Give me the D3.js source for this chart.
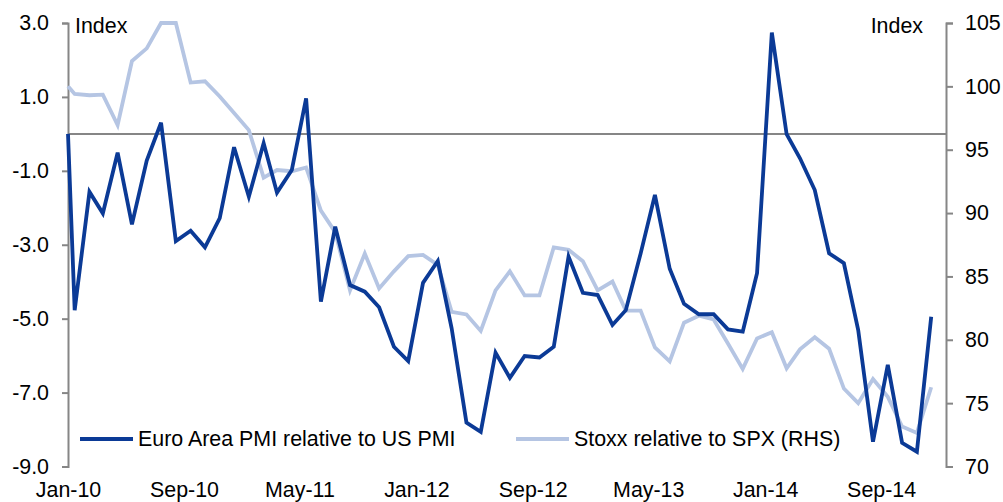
<!DOCTYPE html>
<html>
<head>
<meta charset="utf-8">
<script src="https://cdn.jsdelivr.net/npm/d3@7/dist/d3.min.js"></script>
<style>
  html, body { margin: 0; padding: 0; background: #fff; }
  svg { display: block; }
  text { font-family: "Liberation Sans", Arial, sans-serif; fill: #000; }
</style>
</head>
<body>
<svg id="chart" width="1003" height="502"></svg>
<script>
// ---- data ----
const dates = [
  "2010-01-01",
  "2010-01-15","2010-02-15","2010-03-15","2010-04-15","2010-05-15","2010-06-15",
  "2010-07-15","2010-08-15","2010-09-15","2010-10-15","2010-11-15","2010-12-15",
  "2011-01-15","2011-02-15","2011-03-15","2011-04-15","2011-05-15","2011-06-15",
  "2011-07-15","2011-08-15","2011-09-15","2011-10-15","2011-11-15","2011-12-15",
  "2012-01-15","2012-02-15","2012-03-15","2012-04-15","2012-05-15","2012-06-15",
  "2012-07-15","2012-08-15","2012-09-15","2012-10-15","2012-11-15","2012-12-15",
  "2013-01-15","2013-02-15","2013-03-15","2013-04-15","2013-05-15","2013-06-15",
  "2013-07-15","2013-08-15","2013-09-15","2013-10-15","2013-11-15","2013-12-15",
  "2014-01-15","2014-02-15","2014-03-15","2014-04-15","2014-05-15","2014-06-15",
  "2014-07-15","2014-08-15","2014-09-15","2014-10-15","2014-11-15","2014-12-15"
];
const euroPMI = [
  0.0,
  -4.77, -1.57, -2.15, -0.51, -2.45, -0.72, 0.30, -2.90, -2.62, -3.07, -2.28, -0.36,
  -1.70, -0.25, -1.59, -0.98, 0.96, -4.54, -2.51, -4.09, -4.27, -4.69, -5.76, -6.15,
  -4.03, -3.44, -5.26, -7.81, -8.06, -5.92, -6.60, -6.01, -6.05, -5.76, -3.32, -4.30,
  -4.36, -5.17, -4.77, -3.24, -1.65, -3.65, -4.60, -4.88, -4.88, -5.29, -5.35, -3.77,
  2.74, -0.01, -0.66, -1.52, -3.23, -3.50, -5.31, -8.33, -6.25, -8.36, -8.60, -4.95
];
const stoxxRel = [
  100.0,
  99.4, 99.3, 99.35, 96.95, 102.0, 103.0, 105.0, 105.0, 100.3, 100.4, 99.2, 97.9,
  96.55, 92.8, 93.4, 93.3, 93.6, 90.2, 88.5, 83.9, 86.8, 84.05, 85.4, 86.6,
  86.7, 85.9, 82.2, 82.0, 80.7, 83.9, 85.4, 83.5, 83.5, 87.3, 87.1, 86.2,
  83.9, 84.6, 82.3, 82.3, 79.4, 78.3, 81.35, 81.9, 81.6, 79.7, 77.7, 80.1,
  80.6, 77.75, 79.25, 80.2, 79.3, 76.15, 75.0, 76.9, 75.5, 73.15, 72.65, 76.25
];
const xTickLabels = ["Jan-10","Sep-10","May-11","Jan-12","Sep-12","May-13","Jan-14","Sep-14"];
const leftTicks = [3, 1, -1, -3, -5, -7, -9];
const leftTickLabels = ["3.0","1.0","-1.0","-3.0","-5.0","-7.0","-9.0"];
const rightTicks = [105, 100, 95, 90, 85, 80, 75, 70];
const rightTickLabels = ["105","100","95","90","85","80","75","70"];
const seriesNames = ["Euro Area PMI relative to US PMI", "Stoxx relative to SPX (RHS)"];

// ---- layout ----
const svg = d3.select("#chart");
const L = 68, R = 946, T = 23, B = 466.5;
const parseDate = d3.timeParse("%Y-%m-%d");
const parseTick = d3.timeParse("%b-%y");
const x = d3.scaleTime()
  .domain([parseDate("2010-01-01"), parseDate("2015-01-15")])
  .range([L, R]);
const yL = d3.scaleLinear().domain([-9, 3]).range([B, T]);
const yR = d3.scaleLinear().domain([70, 105]).range([B, T]);

const axisColor = "#868686";
const darkBlue = "#0b3a96";
const lightBlue = "#b5c5e3";
const fontSize = 21.4;
const ff = "Liberation Sans, Arial, sans-serif";

// left axis
const leftAxis = d3.axisLeft(yL).tickValues(leftTicks)
  .tickFormat((d, i) => leftTickLabels[i]).tickSizeOuter(0).tickSize(6).tickPadding(13);
const gL = svg.append("g").attr("transform", `translate(${L},0)`).call(leftAxis);
gL.select(".domain").attr("stroke", axisColor).attr("stroke-width", 2);
gL.selectAll(".tick line").attr("stroke", axisColor).attr("stroke-width", 2);
gL.selectAll(".tick text").attr("font-size", fontSize).attr("font-family", ff).attr("fill", "#000");

// right axis
const rightAxis = d3.axisRight(yR).tickValues(rightTicks)
  .tickFormat((d, i) => rightTickLabels[i]).tickSizeOuter(0).tickSize(7).tickPadding(12);
const gR = svg.append("g").attr("transform", `translate(${R},0)`).call(rightAxis);
gR.select(".domain").attr("stroke", axisColor).attr("stroke-width", 2);
gR.selectAll(".tick line").attr("stroke", axisColor).attr("stroke-width", 2);
gR.selectAll(".tick text").attr("font-size", fontSize).attr("font-family", ff).attr("fill", "#000");

// x axis labels (at bottom, no line)
const xAxis = d3.axisBottom(x).tickValues(xTickLabels.map(parseTick))
  .tickFormat((d, i) => xTickLabels[i]).tickSize(0).tickPadding(15);
const gX = svg.append("g").attr("transform", `translate(0,${B})`).call(xAxis);
gX.select(".domain").remove();
gX.selectAll(".tick text").attr("font-size", fontSize).attr("font-family", ff).attr("fill", "#000");

// zero line (category axis crossing)
svg.append("line")
  .attr("x1", L).attr("x2", R)
  .attr("y1", yL(0)).attr("y2", yL(0))
  .attr("stroke", axisColor).attr("stroke-width", 2);

// unit labels
svg.append("text").attr("x", L + 7).attr("y", T + 10).attr("font-size", fontSize).text("Index");
svg.append("text").attr("x", R - 23).attr("y", T + 10).attr("text-anchor", "end").attr("font-size", fontSize).text("Index");

// lines
const pts = dates.map((d, i) => ({ date: parseDate(d), e: euroPMI[i], s: stoxxRel[i] }));
const lineS = d3.line().x(d => x(d.date)).y(d => yR(d.s));
const lineE = d3.line().x(d => x(d.date)).y(d => yL(d.e));
svg.append("path").datum(pts).attr("d", lineS)
  .attr("fill", "none").attr("stroke", lightBlue).attr("stroke-width", 3.8).attr("stroke-linejoin", "miter");
svg.append("path").datum(pts).attr("d", lineE)
  .attr("fill", "none").attr("stroke", darkBlue).attr("stroke-width", 3.8).attr("stroke-linejoin", "miter");

// legend
const legend = [
  { name: seriesNames[0], color: darkBlue, x1: 80, x2: 133, tx: 138 },
  { name: seriesNames[1], color: lightBlue, x1: 516, x2: 569, tx: 574 }
];
const lg = svg.append("g");
legend.forEach(l => {
  lg.append("line").attr("x1", l.x1).attr("x2", l.x2).attr("y1", 439).attr("y2", 439)
    .attr("stroke", l.color).attr("stroke-width", 3.8);
  lg.append("text").attr("x", l.tx).attr("y", 446).attr("font-size", fontSize).text(l.name);
});
</script>
</body>
</html>
